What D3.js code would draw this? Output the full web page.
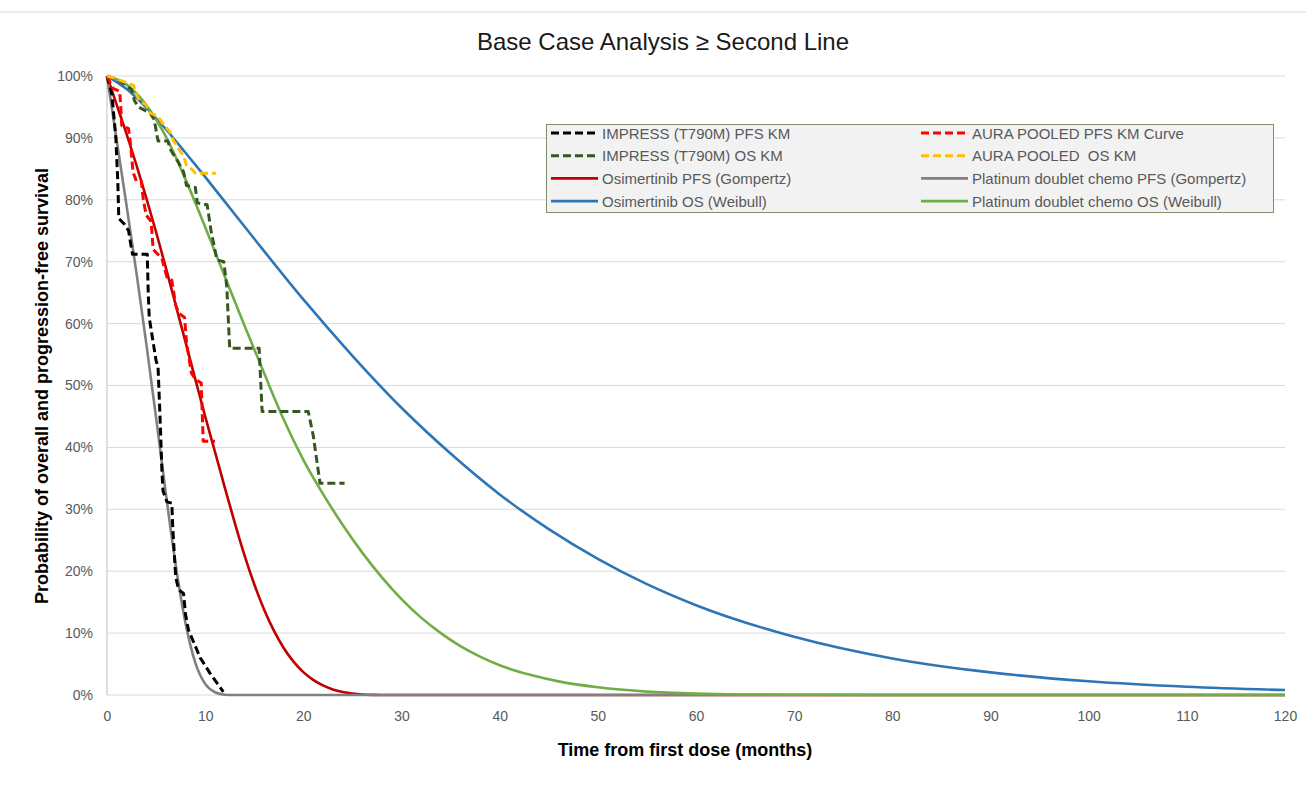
<!DOCTYPE html>
<html>
<head>
<meta charset="utf-8">
<script src="https://cdn.jsdelivr.net/npm/d3@7"></script>
<style>
  body { margin: 0; background: #fff; }
  text { font-family: "Liberation Sans", Arial, sans-serif; }
</style>
</head>
<body>
<div id="chart"></div>
<script>
// survival values in %: [month, survival]
const impressPfsKm = [[0,100],[0.5,97],[0.9,90],[1.1,83],[1.2,77],[1.8,76],[2.2,75],[2.4,73],[2.6,71.2],[4.1,71.2],[4.2,65],[4.3,61],[4.6,58],[5.0,54],[5.2,53],[5.4,45],[5.6,36],[5.7,33],[6.1,31.2],[6.6,31],[6.7,27],[7.0,19],[7.3,17],[7.8,16.4],[8.0,13],[8.3,10.5],[9.5,6],[10.5,3.5],[11.85,0.5]];
const auraPfsKm = [[0,100],[0.3,99],[0.6,98],[1.3,97.5],[1.4,95],[1.5,92],[2.2,91.5],[2.4,89],[2.65,84.5],[3.0,83],[3.5,83],[3.7,80],[4.0,77.5],[4.5,76.5],[4.7,72],[5.3,71],[5.6,70.5],[6.1,67.5],[6.6,67],[7.0,63],[7.3,61.7],[7.9,61],[8.1,57],[8.6,52],[9.0,51],[9.6,50.4],[9.8,41],[11,41]];
const impressOsKm = [[0,100],[1.5,99],[2.5,97.8],[2.8,96],[3.2,95],[4.4,94],[4.8,93],[5.2,89.5],[6.2,89.5],[6.5,88],[6.9,87],[7.3,86],[7.8,84.5],[8.1,82.3],[9.0,82],[9.2,79.5],[10.2,79.2],[10.6,75],[11.2,70.3],[11.9,70],[12.2,66],[12.5,56],[15.5,56],[15.8,45.8],[20.5,45.8],[21.0,42],[21.7,34.2],[24.2,34.2]];
const auraOsKm = [[0,100],[1,99.5],[2.7,98.5],[3,97],[3.3,96],[4.0,95.3],[4.4,94],[5.2,93.5],[5.6,92.5],[6.4,91],[6.8,89.5],[7.4,88],[7.8,87],[8.1,85.6],[8.6,85],[9.0,84.3],[11.1,84.3]];
const osiPfs = [[0,100],[1,95.3],[2,90.6],[3,85.6],[4,80.3],[5,74.8],[6,69],[7,63],[8,57],[9,51],[10,45],[11,39.3],[12,33.5],[13,27.9],[14,22.6],[15,17.9],[16,13.8],[17,10.4],[18,7.6],[19,5.4],[20,3.7],[21,2.45],[22,1.55],[23,0.9],[24,0.48],[25,0.22],[26,0.08],[27,0.02],[28,0],[120,0]];
const chemoPfs = [[0,100],[1,89.5],[2,79],[3,68.2],[4,56.8],[5,44.8],[6,32.5],[7,21],[8,11.6],[9,5.2],[10,1.8],[11,0.45],[12,0.05],[13,0],[120,0]];
const osiOs = [[0,100],[2,97.9],[4,94.9],[6,91.4],[8,87.6],[10,83.7],[12,79.7],[15,73.7],[20,63.9],[25,54.8],[30,46.4],[35,39],[40,32.4],[45,26.8],[50,22],[55,17.9],[60,14.5],[70,9.4],[80,5.9],[90,3.66],[100,2.22],[110,1.33],[120,0.8]];
const chemoOs = [[0,100],[2,98.6],[4,95.3],[6,90.2],[8,83.3],[10,75.6],[12,67.6],[14,59.7],[16,52],[18,44.5],[20,38],[22,32.5],[24,27.5],[26,23],[28,19],[30,15.5],[32,12.5],[34,10],[36,7.9],[38,6.2],[40,4.8],[43,3.3],[46,2.2],[50,1.25],[55,0.55],[60,0.22],[65,0.08],[70,0.03],[80,0],[120,0]];

const xTicks = d3.range(0, 121, 10);
const yTicks = d3.range(0, 101, 10);

const series = [
  { name: "IMPRESS (T790M) PFS KM", data: impressPfsKm, color: "#000000", dash: true },
  { name: "AURA POOLED PFS KM Curve", data: auraPfsKm, color: "#FF0000", dash: true },
  { name: "IMPRESS (T790M) OS KM", data: impressOsKm, color: "#375623", dash: true },
  { name: "AURA POOLED  OS KM", data: auraOsKm, color: "#FFC000", dash: true },
  { name: "Osimertinib PFS (Gompertz)", data: osiPfs, color: "#C00000", dash: false },
  { name: "Platinum doublet chemo PFS (Gompertz)", data: chemoPfs, color: "#808080", dash: false },
  { name: "Osimertinib OS (Weibull)", data: osiOs, color: "#2E75B6", dash: false },
  { name: "Platinum doublet chemo OS (Weibull)", data: chemoOs, color: "#70AD47", dash: false }
];

const W = 1306, H = 787;
const margin = {top: 76, right: 21, bottom: 92, left: 107},
      width = W - margin.left - margin.right,
      height = H - margin.top - margin.bottom;

const root = d3.select("#chart").append("svg")
    .attr("width", W)
    .attr("height", H);

// thin frame line at the top of the chart
root.append("line")
    .attr("x1", 0).attr("x2", W)
    .attr("y1", 12).attr("y2", 12)
    .attr("stroke", "#d9d9d9");

root.append("text")
    .attr("x", 663)
    .attr("y", 50)
    .attr("text-anchor", "middle")
    .style("font-size", "24px")
    .style("fill", "#1a1a1a")
    .text("Base Case Analysis \u2265 Second Line");

const svg = root.append("g")
    .attr("transform", `translate(${margin.left},${margin.top})`);

const x = d3.scaleLinear().domain([0, 120]).range([0, width]);
const y = d3.scaleLinear().domain([0, 100]).range([height, 0]);

// gridlines
svg.append("g")
  .selectAll("line")
  .data(yTicks)
  .enter().append("line")
    .attr("x1", 0).attr("x2", width)
    .attr("y1", d => y(d)).attr("y2", d => y(d))
    .attr("stroke", "#d9d9d9");

svg.append("line")
    .attr("x1", 0).attr("x2", 0)
    .attr("y1", 0).attr("y2", height)
    .attr("stroke", "#bfbfbf");

// axes
const xAxis = svg.append("g")
    .attr("transform", `translate(0,${height})`)
    .call(d3.axisBottom(x).tickValues(xTicks).tickSize(0).tickPadding(16));
const yAxis = svg.append("g")
    .call(d3.axisLeft(y).tickValues(yTicks).tickSize(0).tickPadding(14).tickFormat(d => d + "%"));
[xAxis, yAxis].forEach(a => {
  a.select(".domain").remove();
  a.selectAll("text")
    .style("font-size", "14px")
    .style("fill", "#595959")
    .style("font-family", "'Liberation Sans', Arial, sans-serif");
});

// curves: fitted ones first, KM steps on top
const lineKm = d3.line().x(d => x(d[0])).y(d => y(d[1]));
const lineFit = d3.line().x(d => x(d[0])).y(d => y(d[1])).curve(d3.curveMonotoneX);

const order = [4, 5, 6, 7, 0, 1, 2, 3];
svg.selectAll(".curve")
  .data(order.map(i => series[i]))
  .enter().append("path")
    .attr("class", "curve")
    .attr("d", d => d.dash ? lineKm(d.data) : lineFit(d.data))
    .attr("fill", "none")
    .attr("stroke", d => d.color)
    .attr("stroke-width", d => d.dash ? 3 : 2.6)
    .attr("stroke-dasharray", d => d.dash ? "8,4" : null)
    .attr("stroke-linejoin", "round");

// axis titles
root.append("text")
    .attr("x", 685)
    .attr("y", 756)
    .attr("text-anchor", "middle")
    .style("font-size", "18px")
    .style("font-weight", "bold")
    .style("fill", "#000")
    .text("Time from first dose (months)");

root.append("text")
    .attr("transform", "translate(48,386) rotate(-90)")
    .attr("text-anchor", "middle")
    .style("font-size", "18px")
    .style("font-weight", "bold")
    .style("fill", "#000")
    .text("Probability of overall and progression-free survival");

// legend
const legend = root.append("g");
legend.append("rect")
    .attr("x", 546.5).attr("y", 124.5)
    .attr("width", 727).attr("height", 88)
    .attr("fill", "#f2f2f2")
    .attr("stroke", "#7f8f6c")
    .attr("stroke-width", 1);

const item = legend.selectAll(".item")
  .data(series)
  .enter().append("g")
    .attr("class", "item")
    .attr("transform", (d, i) => `translate(${i % 2 ? 921 : 551},${133 + Math.floor(i / 2) * 22.7})`);

item.append("line")
    .attr("x1", 0).attr("x2", 47)
    .attr("stroke", d => d.color)
    .attr("stroke-width", d => d.dash ? 3 : 2.6)
    .attr("stroke-dasharray", d => d.dash ? "8,4" : null);

item.append("text")
    .attr("x", 51)
    .attr("y", 5.5)
    .style("font-size", "15px")
    .style("fill", "#595959")
    .style("white-space", "pre")
    .text(d => d.name);
</script>
</body>
</html>
